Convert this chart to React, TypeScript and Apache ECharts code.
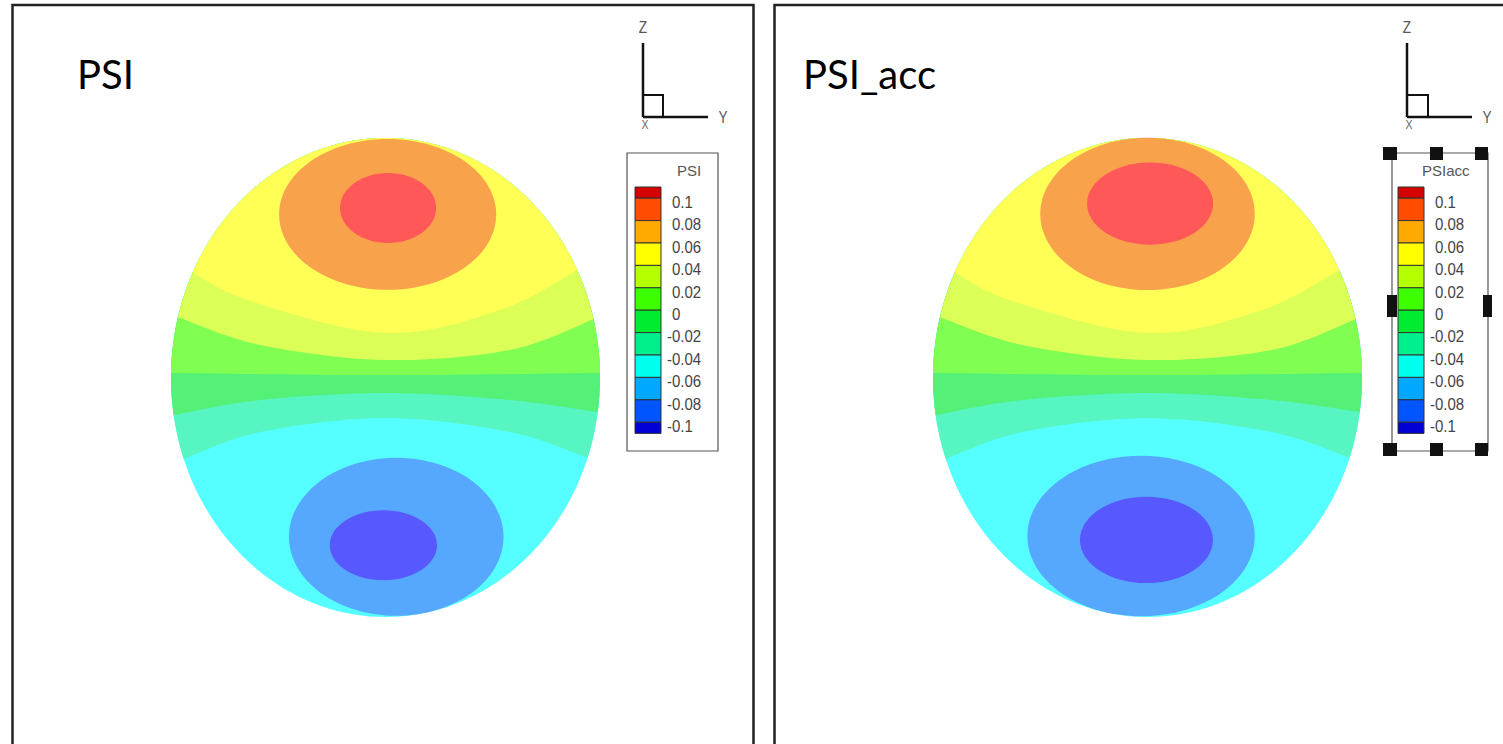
import React, { useEffect, useRef } from "react";
import * as echarts from "echarts";

type Pt = [number, number];
type Front = { level: number; pts: Pt[] };
type Cell = { level: number; center: Pt; radii: Pt };

// Contour levels of the colour bars (top to bottom)
const LEVELS = [0.1, 0.08, 0.06, 0.04, 0.02, 0, -0.02, -0.04, -0.06, -0.08, -0.1];
const LEVEL_LABELS = ["0.1", "0.08", "0.06", "0.04", "0.02", "0", "-0.02", "-0.04", "-0.06", "-0.08", "-0.1"];

// Colour bar swatches (index 0 = above 0.1 ... index 11 = below -0.1)
const BAR_COLORS = ["#d60000", "#ff4c00", "#ffaa00", "#ffff00", "#b4ff00", "#3cff00", "#00ec30", "#00f08e", "#00ffee", "#00a8ff", "#0055ff", "#0000d6"];
// Same bands as they appear in the contour plots
const FILL_COLORS = ["#ff4040", "#ff5858", "#f8a24c", "#ffff55", "#dcff58", "#80ff52", "#54f078", "#56f5c2", "#56ffff", "#56a8ff", "#5858ff", "#4444e0"];

// Disk coordinates: u = horizontal (Y), v = vertical (Z), unit disk
// PSI : iso-lines crossing the disk (left rim -> right rim)
const psiFronts: Front[] = [
  { level: -0.04, pts: [[-0.94, -0.34], [-0.585, -0.228], [0, -0.169], [0.58, -0.228], [0.944, -0.336]] },
  { level: -0.02, pts: [[-0.986, -0.157], [-0.585, -0.094], [0, -0.065], [0.58, -0.094], [0.986, -0.144]] },
  { level: 0, pts: [[-1, 0.019], [0, 0.01], [1, 0.019]] },
  { level: 0.02, pts: [[-0.972, 0.253], [-0.585, 0.136], [0, 0.073], [0.58, 0.115], [0.958, 0.24]] },
  { level: 0.04, pts: [[-0.9, 0.44], [-0.632, 0.32], [0, 0.186], [0.534, 0.282], [0.897, 0.45]] },
];
// PSI : closed iso-lines around the maximum / minimum
const psiPeaks: Cell[] = [
  { level: 0.06, center: [0.01, 0.681], radii: [0.506, 0.315] },
  { level: 0.08, center: [0.012, 0.708], radii: [0.224, 0.146] },
];
const psiTroughs: Cell[] = [
  { level: -0.06, center: [0.05, -0.665], radii: [0.5, 0.33] },
  { level: -0.08, center: [-0.01, -0.7], radii: [0.25, 0.146] },
];

// PSI_acc
const accFronts: Front[] = [
  { level: -0.04, pts: [[-0.94, -0.34], [-0.585, -0.228], [0, -0.17], [0.58, -0.228], [0.944, -0.336]] },
  { level: -0.02, pts: [[-0.986, -0.157], [-0.585, -0.094], [0, -0.065], [0.58, -0.094], [0.986, -0.144]] },
  { level: 0, pts: [[-1, 0.019], [0, 0.01], [1, 0.019]] },
  { level: 0.02, pts: [[-0.972, 0.253], [-0.585, 0.136], [0, 0.073], [0.58, 0.115], [0.958, 0.24]] },
  { level: 0.04, pts: [[-0.9, 0.44], [-0.632, 0.32], [0, 0.186], [0.534, 0.282], [0.897, 0.45]] },
];
const accPeaks: Cell[] = [
  { level: 0.06, center: [0.0, 0.683], radii: [0.5, 0.318] },
  { level: 0.08, center: [0.012, 0.726], radii: [0.294, 0.172] },
];
const accTroughs: Cell[] = [
  { level: -0.06, center: [-0.03, -0.662], radii: [0.53, 0.335] },
  { level: -0.08, center: [-0.005, -0.678], radii: [0.31, 0.18] },
];

function spline(p: number[][], seg = 14): number[][] {
  const out: number[][] = [];
  for (let i = 0; i < p.length - 1; i++) {
    const p0 = p[Math.max(i - 1, 0)], p1 = p[i], p2 = p[i + 1], p3 = p[Math.min(i + 2, p.length - 1)];
    for (let k = 0; k < seg; k++) {
      const t = k / seg, t2 = t * t, t3 = t2 * t;
      const f = (a: number, b: number, c: number, d: number) =>
        0.5 * (2 * b + (-a + c) * t + (2 * a - 5 * b + 4 * c - d) * t2 + (-a + 3 * b - 3 * c + d) * t3);
      out.push([f(p0[0], p1[0], p2[0], p3[0]), f(p0[1], p1[1], p2[1], p3[1])]);
    }
  }
  out.push(p[p.length - 1]);
  return out;
}

function bandIndex(level: number) {
  return LEVELS.findIndex((l) => Math.abs(l - level) < 1e-9);
}

function makeSeries(gi: number, fronts: Front[], peaks: Cell[], troughs: Cell[]) {
  const layers: any[] = [{ kind: "disk" }];
  [...fronts].sort((a, b) => a.level - b.level).forEach((f) => layers.push({ kind: "front", ...f }));
  [...peaks].sort((a, b) => a.level - b.level).forEach((c) => layers.push({ kind: "peak", ...c }));
  [...troughs].sort((a, b) => b.level - a.level).forEach((c) => layers.push({ kind: "trough", ...c }));
  return {
    type: "custom",
    coordinateSystem: "cartesian2d",
    xAxisIndex: gi,
    yAxisIndex: gi,
    silent: true,
    clip: false,
    encode: { x: 0, y: 1 },
    data: layers.map((_, i) => [0, 0, i]),
    renderItem: (params: any, api: any) => {
      const l = layers[api.value(2)];
      const z2 = api.value(2);
      if (l.kind === "disk") {
        const c = api.coord([0, 0]);
        const s = api.size([1, 1]);
        const lowest = Math.min(...fronts.map((f) => f.level));
        return { type: "ellipse", z2, shape: { cx: c[0], cy: c[1], rx: s[0], ry: s[1] }, style: { fill: FILL_COLORS[bandIndex(lowest) + 1] } };
      }
      if (l.kind === "front") {
        const pts: Pt[] = l.pts;
        const norm = (p: Pt): Pt => { const r = Math.hypot(p[0], p[1]); return [p[0] / r, p[1] / r]; };
        const first = norm(pts[0]);
        const last = norm(pts[pts.length - 1]);
        const curve = spline([first, ...pts.slice(1, -1), last].map((p) => api.coord(p)));
        const a0 = Math.atan2(last[1], last[0]);
        let a1 = Math.atan2(first[1], first[0]);
        if (a1 < a0) a1 += 2 * Math.PI;
        const arc: number[][] = [];
        const n = 90;
        for (let k = 1; k < n; k++) {
          const a = a0 + ((a1 - a0) * k) / n;
          arc.push(api.coord([Math.cos(a), Math.sin(a)]));
        }
        return { type: "polygon", z2, shape: { points: [...curve, ...arc] }, style: { fill: FILL_COLORS[bandIndex(l.level)] } };
      }
      const c = api.coord(l.center);
      const s = api.size(l.radii);
      const idx = l.kind === "peak" ? bandIndex(l.level) : bandIndex(l.level) + 1;
      return { type: "ellipse", z2, shape: { cx: c[0], cy: c[1], rx: s[0], ry: s[1] }, style: { fill: FILL_COLORS[idx] } };
    },
  };
}

function legend(boxX: number, boxW: number, barX: number, labelX: number, title: string, titleX: number, handles: boolean) {
  const els: any[] = [];
  els.push({ type: "rect", shape: { x: boxX, y: 153, width: boxW, height: 298 }, style: { fill: "#fff", stroke: "#555", lineWidth: 1.2 } });
  els.push({ type: "text", x: titleX, y: 170, style: { text: title, fontSize: 15, fontFamily: "Liberation Sans, Arial", fill: "#555", verticalAlign: "middle", align: "left" } });
  const top = 187, step = 22.4, half = 11.2, w = 26;
  BAR_COLORS.forEach((col, i) => {
    const y0 = i === 0 ? top : top + half + step * (i - 1);
    const h = i === 0 || i === BAR_COLORS.length - 1 ? half : step;
    els.push({ type: "rect", shape: { x: barX, y: y0, width: w, height: h }, style: { fill: col, stroke: "#333", lineWidth: 1 } });
  });
  LEVEL_LABELS.forEach((t, i) => {
    const y = top + half + step * i + 4;
    els.push({ type: "text", x: labelX - (t.startsWith("-") ? 5 : 0), y, scaleY: 1.08, style: { text: t, fontSize: 15, fontFamily: "Liberation Sans, Arial", fill: "#444", verticalAlign: "middle", align: "left" } });
  });
  if (handles) {
    const hs = [
      [1383, 147, 14, 13], [1430, 147, 13, 13], [1475, 147, 13, 13],
      [1387, 295, 10, 22], [1483, 295, 9, 22],
      [1383, 443, 14, 13], [1430, 443, 13, 13], [1475, 443, 13, 13],
    ];
    hs.forEach(([x, y, ww, hh]) => els.push({ type: "rect", shape: { x, y, width: ww, height: hh }, style: { fill: "#111" } }));
  }
  return els;
}

function triad(ox: number, hx: number, sx: number) {
  const ln = { stroke: "#111", lineWidth: 2.5 };
  const lab = (text: string, x: number, y: number, size: number, fill: string) => ({
    type: "text", x, y, scaleX: 0.8, style: { text, fontSize: size, fontFamily: "Liberation Sans, Arial", fill, align: "center", verticalAlign: "middle" },
  });
  return [
    { type: "line", shape: { x1: ox, y1: 43, x2: ox, y2: 117 }, style: ln },
    { type: "line", shape: { x1: ox, y1: 117, x2: hx, y2: 117 }, style: ln },
    { type: "polyline", shape: { points: [[ox, 95], [sx, 95], [sx, 117]] }, style: { stroke: "#111", lineWidth: 2, fill: "none" } },
    lab("Z", ox, 27, 17, "#555"),
    lab("Y", hx + 15, 117, 17, "#555"),
    lab("X", ox + 2, 124, 13, "#666"),
  ];
}

export default function App() {
  const ref = useRef<HTMLDivElement>(null);
  useEffect(() => {
    if (!ref.current) return;
    const chart = echarts.init(ref.current, undefined, { renderer: "svg" });
    const axis = (gi: number) => ({ type: "value", gridIndex: gi, min: -1, max: 1, show: false });
    chart.setOption({
      animation: false,
      backgroundColor: "#fff",
      grid: [
        { left: 171, top: 138, width: 429, height: 479 },
        { left: 933, top: 138, width: 429, height: 479 },
      ],
      xAxis: [axis(0), axis(1)],
      yAxis: [axis(0), axis(1)],
      series: [makeSeries(0, psiFronts, psiPeaks, psiTroughs), makeSeries(1, accFronts, accPeaks, accTroughs)],
      graphic: [
        { type: "rect", shape: { x: 12.5, y: 5, width: 741, height: 745 }, style: { fill: "none", stroke: "#222", lineWidth: 2.5 }, z: 1 },
        { type: "rect", shape: { x: 774.5, y: 5, width: 745, height: 745 }, style: { fill: "none", stroke: "#222", lineWidth: 2.5 }, z: 1 },
        { type: "text", x: 77, y: 74, style: { text: "PSI", fontSize: 40, fontFamily: "Lato", fill: "#000", verticalAlign: "middle" } },
        { type: "text", x: 803, y: 74, style: { text: "PSI_acc", fontSize: 40, fontFamily: "Lato", fill: "#000", verticalAlign: "middle" } },
        ...triad(643, 708, 663),
        ...triad(1407, 1472, 1428),
        ...legend(627, 91, 635, 672, "PSI", 677, false),
        ...legend(1392, 96, 1398, 1435, "PSIacc", 1422, true),
      ],
    });
    return () => chart.dispose();
  }, []);
  return <div ref={ref} style={{ position: "absolute", left: 0, top: 0, width: 1503, height: 744 }} />;
}
